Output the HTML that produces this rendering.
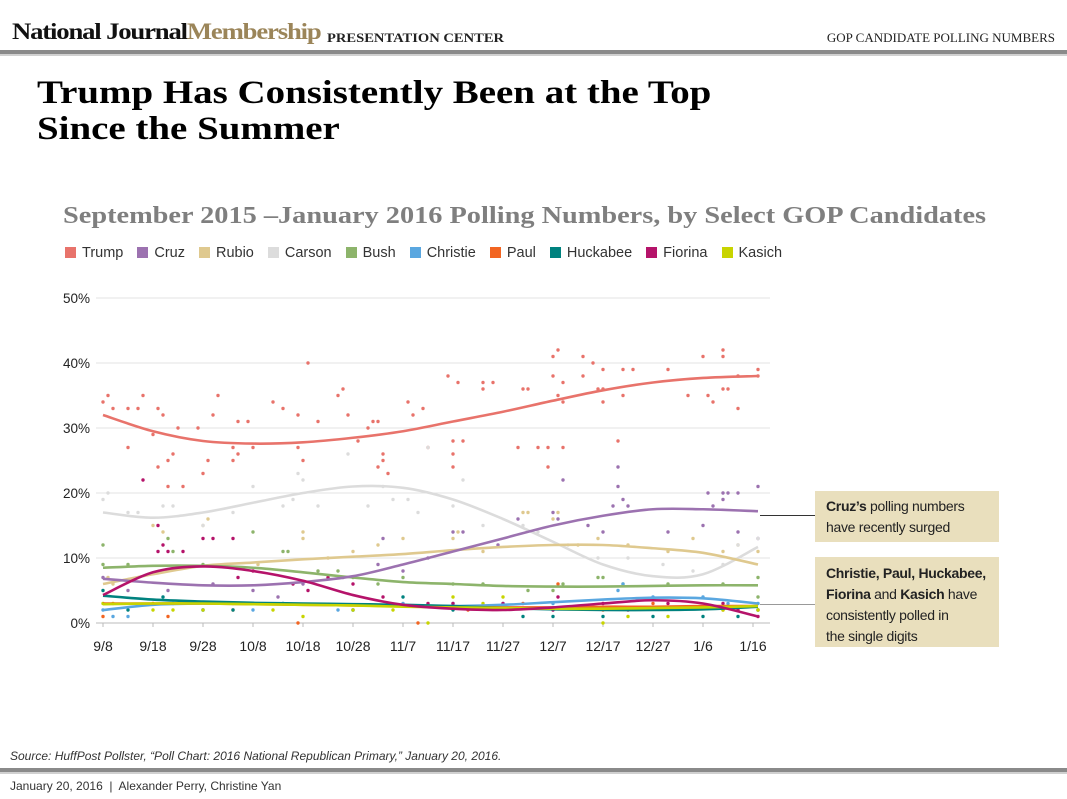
<!DOCTYPE html>
<html><head><meta charset="utf-8"><style>
body{margin:0;width:1067px;height:799px;background:#fff;position:relative;overflow:hidden;font-family:"Liberation Sans",sans-serif}
.abs{position:absolute}
.serif{font-family:"Liberation Serif",serif}
.note{position:absolute;background:#e9dfbd;font-size:14px;line-height:21px;color:#222;padding:0 0 0 11px;box-sizing:border-box;letter-spacing:-0.3px;white-space:nowrap}
</style></head><body>
<div class="abs serif" style="left:12px;top:19px;font-size:23px;font-weight:bold;letter-spacing:-1px;color:#111;transform:scaleX(1.16);transform-origin:0 0">National Journal<span style="color:#9b8559">Membership</span></div>
<div class="abs serif" style="left:327px;top:30px;font-size:13px;font-weight:bold;color:#222;transform:scaleX(1.12);transform-origin:0 0">PRESENTATION CENTER</div>
<div class="abs serif" style="right:12px;top:30px;font-size:13px;color:#222">GOP CANDIDATE POLLING NUMBERS</div>
<div class="abs" style="left:0;top:50px;width:1067px;height:4px;background:#8a8a8a;border-bottom:2px solid #d0d0d0"></div>
<div class="abs serif" style="left:37px;top:75px;font-size:33px;line-height:36px;font-weight:bold;color:#000;transform:scaleX(1.18);transform-origin:0 0;white-space:nowrap">Trump Has Consistently Been at the Top<br>Since the Summer</div>
<div class="abs serif" style="left:63px;top:203px;font-size:24px;font-weight:bold;color:#7f7f7f;transform:scaleX(1.18);transform-origin:0 0;white-space:nowrap">September 2015 –January 2016 Polling Numbers, by Select GOP Candidates</div>
<div id="legend" class="abs" style="left:65px;top:245px;font-size:14.5px;color:#333;white-space:nowrap"></div>
<svg id="chart" class="abs" style="left:0;top:280px" width="800" height="380"></svg>
<div class="abs" style="left:760px;top:515px;width:55px;height:1px;background:#333"></div>
<div class="abs" style="left:760px;top:604px;width:55px;height:1px;background:#999"></div>
<div class="note" style="left:815px;top:491px;width:184px;height:51px;padding-top:5px"><b>Cruz’s</b> polling numbers<br>have recently surged</div>
<div class="note" style="left:815px;top:557px;width:184px;height:90px;padding-top:6px"><b>Christie, Paul, Huckabee,</b><br><b>Fiorina</b> and <b>Kasich</b> have<br>consistently polled in<br>the single digits</div>
<div class="abs" style="left:10px;top:749px;font-size:12px;font-style:italic;color:#333">Source: HuffPost Pollster, “Poll Chart: 2016 National Republican Primary,” January 20, 2016.</div>
<div class="abs" style="left:0;top:768px;width:1067px;height:4px;background:#8a8a8a;border-bottom:2px solid #d0d0d0"></div>
<div class="abs" style="left:10px;top:779px;font-size:12px;color:#333">January 20, 2016 &nbsp;|&nbsp; Alexander Perry, Christine Yan</div>
<script>
const names=["Trump","Cruz","Rubio","Carson","Bush","Christie","Paul","Huckabee","Fiorina","Kasich"];
const colors=["#e8736b","#9c72b0","#dfc98f","#dcdcdc","#8db46b","#5aa7e0","#f26522","#00827f","#b5136a","#c8d400"];
const xTickLabels=["9/8","9/18","9/28","10/8","10/18","10/28","11/7","11/17","11/27","12/7","12/17","12/27","1/6","1/16"];
const yTicks=[0,10,20,30,40,50];
const trendDays=[0,10,20,30,40,50,60,70,80,90,100,110,120,131];
const trendTrump=[32,29.5,28,27.6,27.8,28.5,29.5,31,32.5,34.2,35.8,37,37.7,38];
const trendCruz=[6.8,6.2,5.8,5.8,6.3,7.2,9,11,13,15,16.5,17.5,17.5,17.2];
const trendRubio=[6,7.5,8.8,9.3,9.8,10.2,10.6,11.2,11.7,12,12,11.5,10.8,9];
const trendCarson=[17,16.2,17,18.5,20,21,20.8,19,16,12.5,9,7.2,7.5,11.7];
const trendBush=[8.5,8.8,8.8,8.5,7.8,7,6.3,6,5.7,5.6,5.6,5.7,5.8,5.8];
const trendChristie=[2,2.8,3,3,2.9,2.8,2.7,2.6,2.8,3.2,3.6,3.9,3.8,3];
const trendPaul=[3,3,3,2.9,2.8,2.7,2.6,2.5,2.4,2.4,2.5,2.5,2.6,2.6];
const trendHuckabee=[4.2,3.6,3.3,3.1,3,2.9,2.8,2.6,2.3,2.1,2,2,2.1,2.5];
const trendFiorina=[4.3,7.8,8.7,8,6.5,4.3,2.8,2.2,2,2.4,3,3.5,3,1];
const trendKasich=[2.9,3,3,2.9,2.8,2.7,2.5,2.4,2.3,2.2,2.2,2.3,2.4,2.6];
const pollsTrump=[[0,34],[1,35],[2,33],[5,33],[5,27],[7,33],[8,35],[10,29],[11,33],[11,24],[12,32],[13,25],[13,21],[14,26],[15,30],[16,21],[19,30],[20,23],[21,25],[22,32],[23,35],[26,25],[26,27],[27,31],[27,26],[29,31],[30,27],[34,34],[36,33],[39,32],[39,27],[40,25],[41,40],[43,31],[47,35],[48,36],[49,32],[51,28],[53,30],[54,31],[55,31],[55,24],[56,26],[56,25],[57,23],[61,34],[62,32],[64,33],[65,27],[69,38],[70,26],[70,24],[70,28],[71,37],[72,28],[76,36],[76,37],[78,37],[83,27],[84,36],[85,36],[87,27],[89,27],[89,24],[90,38],[90,41],[91,42],[91,35],[92,37],[92,34],[92,27],[96,41],[96,38],[98,40],[99,36],[100,39],[100,34],[100,36],[103,28],[104,39],[104,35],[106,39],[113,39],[117,35],[120,41],[121,35],[122,34],[124,42],[124,41],[124,36],[125,36],[127,33],[127,38],[131,39],[131,38]];
const pollsCruz=[[0,7],[5,5],[13,5],[22,6],[30,5],[40,6],[55,9],[56,13],[65,10],[70,14],[72,14],[79,12],[83,16],[90,17],[91,16],[92,22],[97,15],[100,14],[102,18],[103,24],[103,21],[104,19],[105,18],[113,14],[120,15],[121,20],[122,18],[124,19],[124,20],[125,20],[127,20],[127,14],[131,21],[131,13],[48,7],[60,8],[35,4]];
const pollsRubio=[[1,7],[2,6],[10,15],[12,14],[20,15],[21,16],[31,9],[40,14],[40,13],[45,10],[50,11],[55,12],[60,13],[70,13],[71,14],[76,11],[84,17],[85,17],[90,16],[91,17],[95,12],[99,13],[105,12],[113,11],[118,13],[124,11],[127,12],[131,11]];
const pollsCarson=[[0,19],[1,20],[5,17],[7,17],[12,18],[14,18],[20,15],[26,17],[30,21],[36,18],[38,19],[39,23],[40,22],[43,18],[49,26],[53,18],[56,21],[58,19],[61,19],[63,17],[65,27],[70,18],[72,22],[76,15],[84,15],[87,14],[93,12],[99,10],[105,10],[112,9],[118,8],[124,9],[127,12],[131,13]];
const pollsBush=[[0,12],[0,9],[5,9],[13,13],[14,11],[20,9],[30,14],[36,11],[37,11],[43,8],[50,7],[60,7],[70,6],[76,6],[85,5],[90,5],[92,6],[99,7],[100,7],[104,6],[113,6],[124,6],[131,7],[131,4],[47,8],[55,6]];
const pollsChristie=[[0,2],[2,1],[5,1],[14,3],[20,2],[30,2],[47,2],[50,2],[60,3],[70,3],[80,3],[90,3],[103,5],[104,6],[110,4],[120,4],[125,3],[131,3]];
const pollsPaul=[[0,1],[10,3],[13,1],[26,2],[39,0],[63,0],[73,2],[84,3],[91,6],[100,2],[110,3],[124,2],[131,2]];
const pollsHuckabee=[[0,5],[5,2],[12,4],[20,2],[26,2],[36,3],[50,2],[60,4],[70,2],[84,1],[90,1],[100,1],[110,1],[120,1],[127,1],[131,2]];
const pollsFiorina=[[8,22],[11,15],[11,11],[12,12],[13,11],[16,11],[20,13],[22,13],[26,13],[27,7],[30,8],[38,6],[41,5],[45,7],[50,6],[56,4],[65,3],[70,3],[80,3],[90,2],[91,4],[100,3],[105,2],[113,3],[124,3],[127,2],[131,1]];
const pollsKasich=[[0,3],[2,3],[10,2],[14,2],[20,2],[26,3],[34,2],[40,1],[50,2],[58,2],[65,0],[70,4],[76,3],[80,4],[100,0],[105,1],[113,1],[124,2],[131,2]];

const trends=[trendTrump,trendCruz,trendRubio,trendCarson,trendBush,trendChristie,trendPaul,trendHuckabee,trendFiorina,trendKasich];
const polls=[pollsTrump,pollsCruz,pollsRubio,pollsCarson,pollsBush,pollsChristie,pollsPaul,pollsHuckabee,pollsFiorina,pollsKasich];
const NS="http://www.w3.org/2000/svg";
const svg=document.getElementById('chart');
const X0=103,PXD=5.0,Y0=343,PXP=6.5;
const xs=d=>X0+d*PXD, ys=v=>Y0-v*PXP;
function mk(t,a,p){const e=document.createElementNS(NS,t);for(const k in a)e.setAttribute(k,a[k]);(p||svg).appendChild(e);return e;}
yTicks.forEach(v=>{
  const g=mk('line',{x1:96,x2:770,y1:ys(v),y2:ys(v),stroke:v===0?'#bbb':'#e3e3e3','stroke-width':1});
  
  
  const t=mk('text',{x:90,y:ys(v)+5,'text-anchor':'end','font-size':13.5,fill:'#222','font-family':'Liberation Sans, sans-serif'});
  t.textContent=v+'%';
  
  
});
xTickLabels.forEach((l,i)=>{
  const x=xs(i*10);
  const tk=mk('line',{x1:x,x2:x,y1:Y0,y2:Y0+4,stroke:'#bbb'});
  
  
  const t=mk('text',{x:x,y:Y0+28,'text-anchor':'middle','font-size':14,fill:'#222','font-family':'Liberation Sans, sans-serif'});
  t.textContent=l;
  
  
});
polls.forEach((arr,i)=>arr.forEach(p=>{
  const c=mk('circle',{cx:xs(p[0]),cy:ys(p[1]),r:1.7,fill:colors[i]});
  
  
}));
function smooth(pts){let d='M'+pts[0][0]+','+pts[0][1];for(let i=0;i<pts.length-1;i++){const p0=pts[i-1]||pts[i],p1=pts[i],p2=pts[i+1],p3=pts[i+2]||p2;
 d+=' C'+(p1[0]+(p2[0]-p0[0])/6)+','+(p1[1]+(p2[1]-p0[1])/6)+' '+(p2[0]-(p3[0]-p1[0])/6)+','+(p2[1]-(p3[1]-p1[1])/6)+' '+p2[0]+','+p2[1];}return d;}
[3,2,4,1,0,5,6,7,9,8].forEach(i=>{
  const pts=trendDays.map((d,j)=>[xs(d),ys(trends[i][j])]);
  const p=mk('path',{d:smooth(pts),fill:'none',stroke:colors[i],'stroke-width':2.6});
  
  
});
const lg=document.getElementById('legend');
names.forEach((n,i)=>{
  const s=document.createElement('span');
  s.style.cssText='display:inline-block;margin-right:14px';
  s.innerHTML='<span style="display:inline-block;width:11px;height:11px;background:'+colors[i]+';margin-right:6px;vertical-align:-1px"></span>'+n;
  
  
  lg.appendChild(s);
});
</script>
</body></html>
